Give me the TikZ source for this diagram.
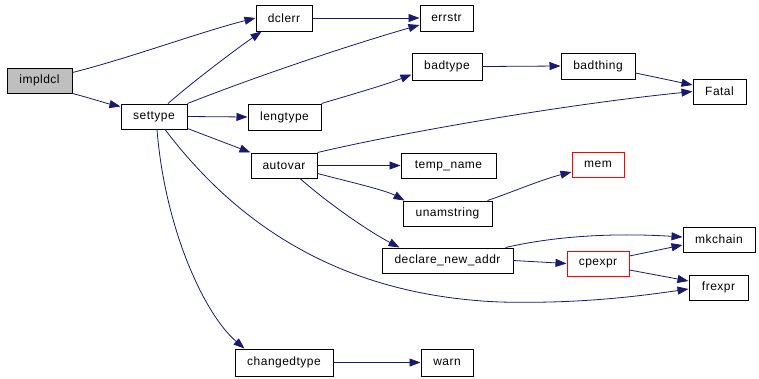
\documentclass[tikz,border=0pt]{standalone}
\usepackage{fontspec}
\setmainfont{Liberation Sans}[LetterSpace=4]
\usetikzlibrary{arrows.meta,calc}
\definecolor{edgeblue}{HTML}{191970}
\tikzset{
  box/.style={draw=black, line width=1pt, rectangle, inner sep=0pt, font=\fontsize{12}{14}\selectfont},
  redbox/.style={box, draw=red},
  edge/.style={draw=edgeblue, line width=0.8pt, -{Triangle[length=11pt,width=8pt]}},
}
\newcommand{\mknode}[7][box]{%
  \node[#1, minimum width={#5-#3}, minimum height={#6-#4}] (#2) at ({(#3+#5)/2},{(#4+#6)/2}) {#7};}
\begin{document}
\begin{tikzpicture}[x=1pt,y=-1pt]
\useasboundingbox (0,0) rectangle (759,378);
\mknode[box,fill=black!25]{impldcl}{7}{68}{72}{93}{impldcl}
\mknode{settype}{121}{104}{187}{129}{settype}
\mknode{dclerr}{256}{5}{312}{31}{dclerr}
\mknode{errstr}{420}{5}{473}{31}{errstr}
\mknode{badtype}{412}{53}{482}{80}{badtype}
\mknode{lengtype}{248}{104}{321}{130}{lengtype}
\mknode{badthing}{561}{53}{635}{79}{badthing}
\mknode{Fatal}{693}{79}{746}{104}{Fatal}
\mknode{autovar}{251}{153}{317}{178}{autovar}
\mknode{tempname}{401}{153}{496}{178}{temp\_name}
\mknode{unamstring}{403}{201}{492}{226}{unamstring}
\mknode{declare}{382}{248}{513}{273}{declare\_new\_addr}
\mknode[redbox]{mem}{572}{152}{624}{177}{mem}
\mknode{mkchain}{683}{227}{755}{252}{mkchain}
\mknode[redbox]{cpexpr}{567}{251}{629}{276}{cpexpr}
\mknode{frexpr}{689}{275}{748}{300}{frexpr}
\mknode{changedtype}{235}{349}{333}{376}{changedtype}
\mknode{warn}{421}{349}{473}{376}{warn}

\draw[edge] ($(impldcl.east)+(0,-8)$) .. controls (130,58) and (200,32) .. (dclerr.west);
\draw[edge] (impldcl.south east) .. controls (90,98) and (105,103) .. ($(settype.north west)+(0,3)$);
\draw[edge] ($(settype.north)+(14,0)$) .. controls (195,80) and (235,50) .. ($(dclerr.south west)+(6,0)$);
\draw[edge] (settype.north east) .. controls (260,75) and (350,45) .. ($(errstr.west)+(0,7)$);
\draw[edge] (settype.east) -- (lengtype.west);
\draw[edge] ($(settype.south east)+(0,-1)$) -- (autovar.north west);
\draw[edge] ($(settype.south)+(3,0)$) .. controls (165,230) and (205,315) .. ($(changedtype.north west)+(10,0)$);
\draw[edge] ($(settype.south)+(11,0)$) .. controls (230,215) and (330,295) .. (500,302) .. controls (580,304) and (640,296) .. ($(frexpr.west)+(0,1.5)$);
\draw[edge] (dclerr.east) -- (errstr.west);
\draw[edge] (lengtype.north east) .. controls (350,95) and (385,85) .. ($(badtype.south west)+(0,-6)$);
\draw[edge] (badtype.east) -- (badthing.west);
\draw[edge] ($(badthing.east)+(0,7)$) -- ($(Fatal.west)+(0,-6.5)$);
\draw[edge] (autovar.north east) .. controls (400,133) and (560,105) .. (Fatal.west);
\draw[edge] (autovar.east) -- (tempname.west);
\draw[edge] ($(autovar.east)+(0,8)$) .. controls (350,182) and (385,190) .. ($(unamstring.north west)+(2,0)$);
\draw[edge] ($(autovar.south)+(16,0)$) .. controls (330,205) and (370,232) .. ($(declare.north west)+(18,0)$);
\draw[edge] ($(unamstring.north east)+(-5,0)$) .. controls (510,193) and (540,180) .. ($(mem.west)+(0,7.5)$);
\draw[edge] ($(declare.north east)+(-8,0)$) .. controls (560,235) and (620,233) .. ($(mkchain.west)+(0,-2.5)$);
\draw[edge] (declare.east) -- (cpexpr.west);
\draw[edge] ($(cpexpr.east)+(0,-7.5)$) -- ($(mkchain.west)+(0,5.5)$);
\draw[edge] ($(cpexpr.east)+(0,6.5)$) -- ($(frexpr.west)+(0,-6.5)$);
\draw[edge] (changedtype.east) -- (warn.west);
\end{tikzpicture}
\end{document}
